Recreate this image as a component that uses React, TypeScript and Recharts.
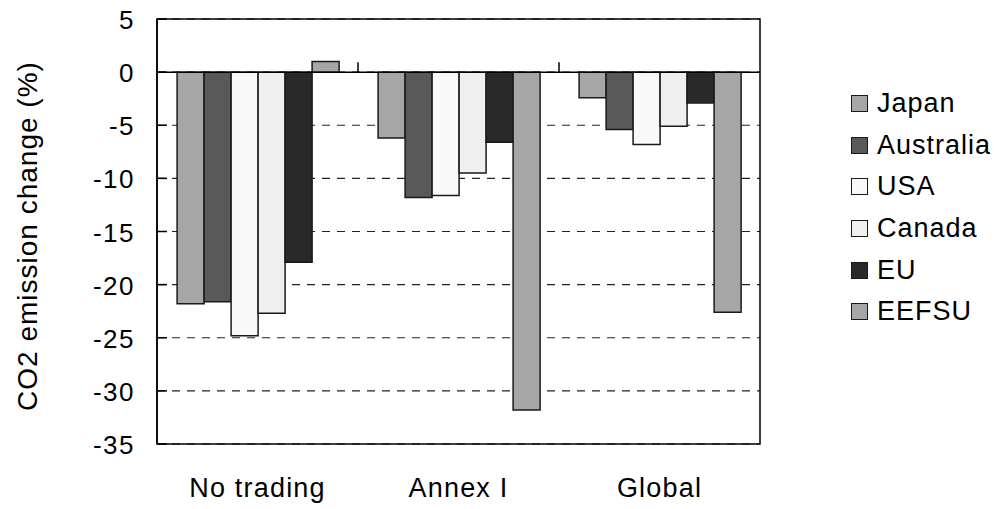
import { BarChart, Bar, XAxis, YAxis, CartesianGrid, ReferenceLine, ReferenceArea } from "recharts";

const categories = ["No trading", "Annex I", "Global"];
const seriesNames = ["Japan", "Australia", "USA", "Canada", "EU", "EEFSU"];
const japan = [-21.8, -6.2, -2.4];
const australia = [-21.6, -11.8, -5.4];
const usa = [-24.8, -11.6, -6.8];
const canada = [-22.7, -9.5, -5.1];
const eu = [-17.9, -6.6, -2.9];
const eefsu = [1.0, -31.8, -22.6];
const yTicks = [5, 0, -5, -10, -15, -20, -25, -30, -35];

const colors = ["#a6a6a6", "#595959", "#f9f9f9", "#efefef", "#292929", "#a6a6a6"];
const allSeries = [japan, australia, usa, canada, eu, eefsu];

const data = categories.map((name, i) => {
  const row: Record<string, string | number> = { name };
  seriesNames.forEach((s, k) => {
    row[s] = allSeries[k][i];
  });
  return row;
});

const W = 1001;
const H = 509;
const PLOT_LEFT = 157;
const PLOT_RIGHT = 760;
const PLOT_TOP = 19;
const PLOT_BOTTOM = 444;
const Y_MAX = 5;
const Y_MIN = -35;
const ZERO_Y = PLOT_TOP + ((Y_MAX - 0) / (Y_MAX - Y_MIN)) * (PLOT_BOTTOM - PLOT_TOP);
const BAND = (PLOT_RIGHT - PLOT_LEFT) / categories.length;
const FONT = "'Liberation Sans', Arial, sans-serif";

const YTick = (props: any) => {
  const { x, y, payload } = props;
  return (
    <g>
      <line x1={PLOT_LEFT} x2={PLOT_LEFT + 10} y1={y} y2={y} stroke="#000" strokeWidth={1.5} />
      <text x={x} y={y + 10} textAnchor="end" fontSize={26} letterSpacing={1.5} fill="#000" fontFamily={FONT}>
        {payload.value}
      </text>
    </g>
  );
};

const XTick = (props: any) => {
  const { x, payload, index } = props;
  return (
    <g>
      {index > 0 && (
        <line x1={x - BAND / 2} x2={x - BAND / 2} y1={ZERO_Y - 10} y2={ZERO_Y} stroke="#000" strokeWidth={1.5} />
      )}
      <text x={x} y={497} textAnchor="middle" fontSize={27} letterSpacing={1.2} fill="#000" fontFamily={FONT}>
        {payload.value}
      </text>
    </g>
  );
};

const YLabel = () => (
  <text
    x={37}
    y={236}
    transform="rotate(-90, 37, 236)"
    textAnchor="middle"
    fontSize={28}
    letterSpacing={1}
    fill="#000"
    fontFamily={FONT}
  >
    CO2 emission change (%)
  </text>
);

export default function App() {
  return (
    <div style={{ position: "absolute", left: 0, top: 0, width: W, height: H, background: "#fff" }}>
      <BarChart
        width={W}
        height={H}
        data={data}
        margin={{ top: PLOT_TOP, right: W - PLOT_RIGHT, bottom: 0, left: 0 }}
        barCategoryGap="10%"
        barGap={0}
      >
        <CartesianGrid vertical={false} stroke="#222" strokeDasharray="8 7" strokeWidth={1.2} />
        <XAxis
          dataKey="name"
          height={H - PLOT_BOTTOM}
          axisLine={false}
          tickLine={false}
          tickSize={0}
          tickMargin={0}
          interval={0}
          tick={<XTick />}
        />
        <YAxis
          width={PLOT_LEFT}
          domain={[Y_MIN, Y_MAX]}
          ticks={yTicks}
          interval={0}
          tickSize={0}
          tickMargin={22}
          axisLine={{ stroke: "#000", strokeWidth: 1.5 }}
          tickLine={false}
          tick={<YTick />}
          label={<YLabel />}
        />
        <ReferenceArea y1={Y_MIN} y2={Y_MAX} fill="none" stroke="#000" strokeWidth={1.5} />
        {seriesNames.map((s, k) => (
          <Bar
            key={s}
            dataKey={s}
            fill={colors[k]}
            stroke="#1a1a1a"
            strokeWidth={1.5}
            isAnimationActive={false}
          />
        ))}
        <ReferenceLine y={0} stroke="#000" strokeWidth={1.5} />
      </BarChart>
      <div style={{ position: "absolute", left: 851, top: 83, fontFamily: FONT }}>
        {seriesNames.map((s, k) => (
          <div key={s} style={{ display: "flex", alignItems: "center", height: 41.6 }}>
            <div
              style={{
                width: 15,
                height: 15,
                background: colors[k],
                border: "1.5px solid #1a1a1a",
                marginRight: 9,
              }}
            />
            <span style={{ fontSize: 27, letterSpacing: 1, color: "#000", whiteSpace: "nowrap" }}>{s}</span>
          </div>
        ))}
      </div>
    </div>
  );
}
